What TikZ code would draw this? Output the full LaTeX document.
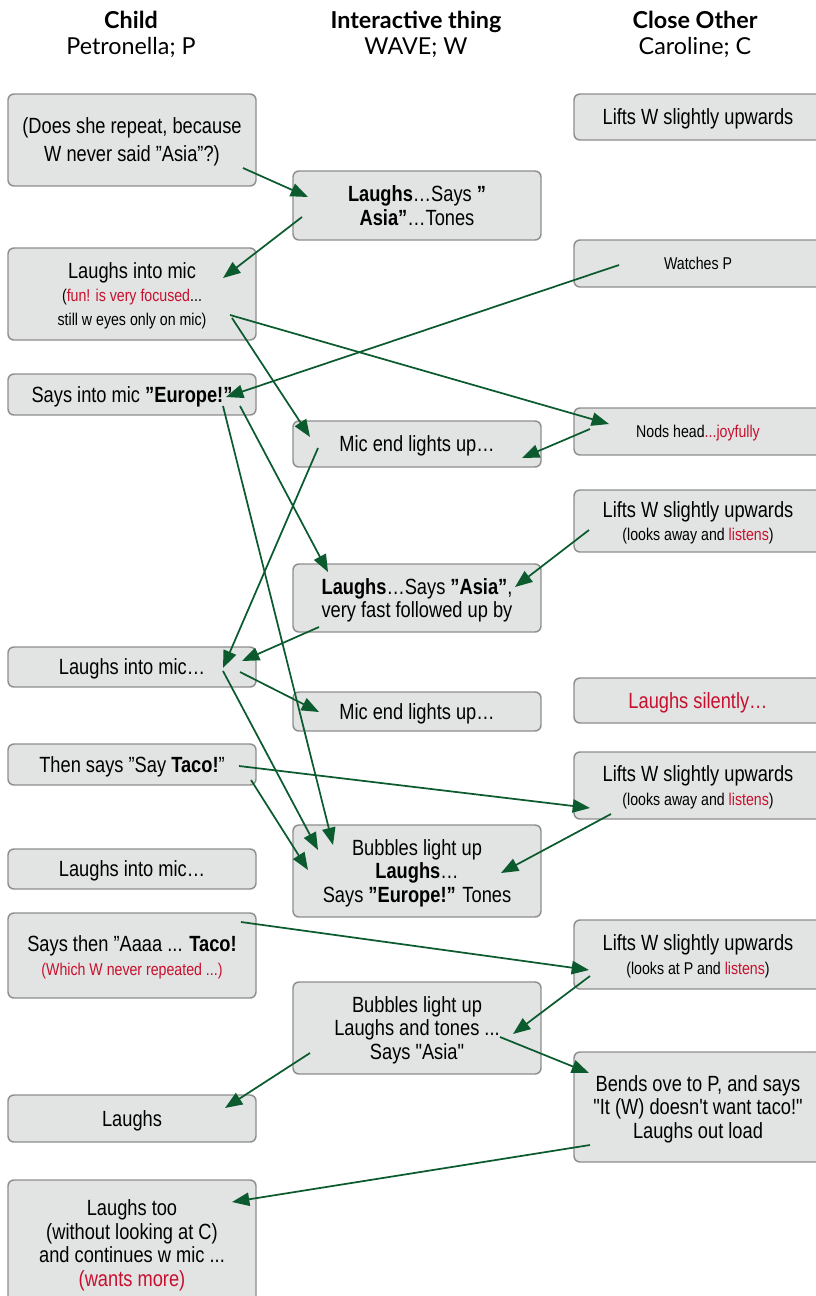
\documentclass[tikz,border=0pt]{standalone}
\usepackage{fontspec}
\setmainfont[FakeStretch=0.83,Ligatures=TeXOff]{Liberation Sans}
\newfontfamily\headfont{Lato}
\usetikzlibrary{arrows.meta}
\definecolor{boxfill}{HTML}{E2E3E3}
\definecolor{boxline}{HTML}{8E8E8E}
\definecolor{arrowgreen}{HTML}{0B5B2F}
\definecolor{remark}{HTML}{C8102E}
\newcommand{\rem}[1]{\textcolor{remark}{#1}}
\newcommand{\smalltxt}{\fontsize{12.8}{17}\selectfont}

\begin{document}
\begin{tikzpicture}[x=0.75pt,y=-0.75pt,
		box/.style={draw=boxline,fill=boxfill,line width=1.1pt,rounded corners=4.5pt,minimum width=186pt,align=center,inner sep=0pt,text depth=0pt,font=\fontsize{16.5}{17.75}\selectfont},
		link/.style={draw=arrowgreen,line width=1.3pt,-{Triangle[length=13pt,width=10pt]}},
		head/.style={align=center,font=\headfont\fontsize{17.5}{19.5}\selectfont}]
				\useasboundingbox (0,0) rectangle (816,1296);
				% column heads
				\node[head] (hchild) at (131,34) {\textbf{Child}\\Petronella; P};
				\node[head] (hthing) at (416,34) {\textbf{Interactive thing}\\WAVE; W};
				\node[head] (hother) at (695,34) {\textbf{Close Other}\\Caroline; C};
				% child
				\node[box,minimum height=69pt] (p1) at (132,140) {(Does she repeat, because\\[3.25pt]W never said ”Asia”?)};
				\node[box,minimum height=69pt] (p2) at (132,294) {Laughs into mic\\{\smalltxt(\rem{fun! is very focused}...}\\{\smalltxt still w eyes only on mic)}};
				\node[box,minimum height=30.75pt] (p3) at (132,394.5) {Says into mic \textbf{”Europe!”}};
				\node[box,minimum height=30pt] (p4) at (132,667) {Laughs into mic…};
				\node[box,minimum height=30.75pt] (p5) at (132,764.5) {Then says ”Say \textbf{Taco!}”};
				\node[box,minimum height=30pt] (p6) at (132,869) {Laughs into mic…};
				\node[box,minimum height=63.75pt] (p7) at (132,955.5) {Says then ”Aaaa ... \textbf{Taco!}\\{\smalltxt\rem{(Which W never repeated ...)}}};
				\node[box,minimum height=35.25pt] (p8) at (132,1118.5) {Laughs};
				\node[box,minimum height=94.5pt] (p9) at (132,1243) {Laughs too\\(without looking at C)\\and continues w mic ...\\\rem{(wants more)}};
				% wave
				\node[box,minimum height=51.75pt] (w1) at (417,205.5) {\textbf{Laughs}…Says \textbf{”}\\\textbf{Asia”}…Tones};
				\node[box,minimum height=34.5pt] (w2) at (417,444) {Mic end lights up…};
				\node[box,minimum height=51pt] (w3) at (417,598) {\textbf{Laughs}…Says \textbf{”Asia”},\\very fast followed up by};
				\node[box,minimum height=29.25pt] (w4) at (417,711.5) {Mic end lights up…};
				\node[box,minimum height=69pt] (w5) at (417,871) {Bubbles light up\\\textbf{Laughs}…\\Says \textbf{”Europe!”} Tones};
				\node[box,minimum height=69pt] (w6) at (417,1028) {Bubbles light up\\Laughs and tones ...\\Says "Asia"};
				% caroline
				\node[box,minimum height=34.5pt] (c1) at (698,117) {Lifts W slightly upwards};
				\node[box,minimum height=35.25pt,font=\smalltxt] (c2) at (698,263.5) {Watches P};
				\node[box,minimum height=35.25pt,font=\smalltxt] (c3) at (698,431.5) {Nods head\rem{...joyfully}};
				\node[box,minimum height=46.5pt] (c4) at (698,521) {Lifts W slightly upwards\\{\smalltxt(looks away and \rem{listens})}};
				\node[box,minimum height=33.75pt] (c5) at (698,700.5) {\rem{Laughs silently…}};
				\node[box,minimum height=50.25pt] (c6) at (698,785.5) {Lifts W slightly upwards\\{\smalltxt(looks away and \rem{listens})}};
				\node[box,minimum height=51.75pt] (c7) at (698,954.5) {Lifts W slightly upwards\\{\smalltxt(looks at P and \rem{listens})}};
				\node[box,minimum height=82.5pt] (c8) at (698,1107) {Bends ove to P, and says\\"It (W) doesn't want taco!"\\Laughs out load};
				% links
				\draw[link] ([shift={(111,28)}]p1.center) -- ([shift={(-109,-8.5)}]w1.center);
				\draw[link] ([shift={(-115,11.5)}]w1.center) -- ([shift={(91,-16)}]p2.center);
				\draw[link] ([shift={(-79,1.5)}]c2.center) -- ([shift={(94,2.5)}]p3.center);
				\draw[link] ([shift={(98,21)}]p2.center) -- ([shift={(-89,-7.5)}]c3.center);
				\draw[link] ([shift={(100,24)}]p2.center) -- ([shift={(-107,-7)}]w2.center);
				\draw[link] ([shift={(-108,-2.5)}]c3.center) -- ([shift={(105,14)}]w2.center);
				\draw[link] ([shift={(108,11.5)}]p3.center) -- ([shift={(-89,-26)}]w3.center);
				\draw[link] ([shift={(91,11.5)}]p3.center) -- ([shift={(-84,-26)}]w5.center);
				\draw[link] ([shift={(-99,4)}]w2.center) -- ([shift={(91,1)}]p4.center);
				\draw[link] ([shift={(-109,9)}]c4.center) -- ([shift={(98,-11)}]w3.center);
				\draw[link] ([shift={(-98,29)}]w3.center) -- ([shift={(110,-6)}]p4.center);
				\draw[link] ([shift={(108,5)}]p4.center) -- ([shift={(-98,0.5)}]w4.center);
				\draw[link] ([shift={(91,4)}]p4.center) -- ([shift={(-99,-21)}]w5.center);
				\draw[link] ([shift={(107,1.5)}]p5.center) -- ([shift={(-108,22.5)}]c6.center);
				\draw[link] ([shift={(119,15.5)}]p5.center) -- ([shift={(-109,-1)}]w5.center);
				\draw[link] ([shift={(-87,28.5)}]c6.center) -- ([shift={(84,2)}]w5.center);
				\draw[link] ([shift={(109,-33.5)}]p7.center) -- ([shift={(-109,15.5)}]c7.center);
				\draw[link] ([shift={(-108,21.5)}]c7.center) -- ([shift={(96,6)}]w6.center);
				\draw[link] ([shift={(83,9)}]w6.center) -- ([shift={(-109,-34)}]c8.center);
				\draw[link] ([shift={(-107,25)}]w6.center) -- ([shift={(93,-10.5)}]p8.center);
				\draw[link] ([shift={(-108,38)}]c8.center) -- ([shift={(100,-41)}]p9.center);
			\end{tikzpicture}
\end{document}
